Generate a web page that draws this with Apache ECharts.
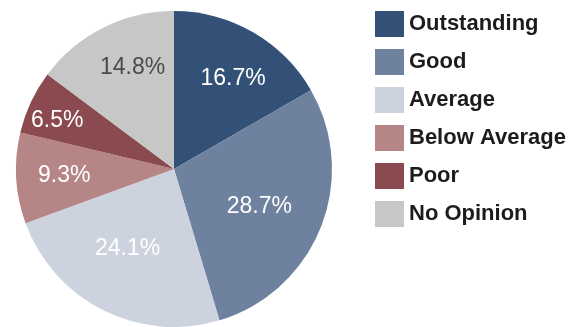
<!DOCTYPE html>
<html>
<head>
<meta charset="utf-8">
<script src="https://cdn.jsdelivr.net/npm/echarts@6/dist/echarts.min.js"></script>
<style>
  html, body { margin: 0; padding: 0; background: #ffffff; }
  #chart { width: 574px; height: 327px; }
</style>
</head>
<body>
<div id="chart"></div>
<script>
// Survey rating shares (percent)
const categories = ['Outstanding', 'Good', 'Average', 'Below Average', 'Poor', 'No Opinion'];
const shares = [16.7, 28.7, 24.1, 9.3, 6.5, 14.8];
const sliceColors = ['#335176', '#6e819e', '#cdd3de', '#b68586', '#8b4a50', '#c7c7c7'];
const labelColors = ['#ffffff', '#ffffff', '#ffffff', '#ffffff', '#ffffff', '#4a4a4a'];
// Small hand adjustments of the percentage labels, in px
const labelNudge = [[5, 3], [-15, -2], [2, -17], [-2, 0], [-19, -3], [7, -5]];

const center = [174, 169];
const radius = 158;

const sliceData = categories.map((name, i) => ({
  name,
  value: shares[i],
  itemStyle: { color: sliceColors[i] }
}));

// Transparent ring used only to place the percentage labels further out
const labelData = categories.map((name, i) => ({
  name,
  value: shares[i],
  itemStyle: { color: 'rgba(0,0,0,0)' },
  label: { color: labelColors[i], offset: labelNudge[i] }
}));

const chart = echarts.init(document.getElementById('chart'), null, { renderer: 'canvas' });
chart.setOption({
  animation: false,
  backgroundColor: '#ffffff',
  legend: {
    orient: 'vertical',
    left: 370,
    top: 6,
    itemWidth: 29,
    itemHeight: 26,
    itemGap: 12,
    icon: 'rect',
    data: categories,
    textStyle: {
      fontFamily: 'Liberation Sans, Arial, sans-serif',
      fontSize: 22,
      fontWeight: 'bold',
      color: '#1c1c1c',
      padding: [0, 0, 0, 0]
    }
  },
  series: [
    {
      type: 'pie',
      name: 'shares',
      center: center,
      radius: [0, radius],
      startAngle: 90,
      clockwise: true,
      label: { show: false },
      labelLine: { show: false },
      emphasis: { disabled: true },
      itemStyle: { borderWidth: 0 },
      data: sliceData
    },
    {
      type: 'pie',
      name: 'labels',
      center: center,
      radius: [52, radius],
      startAngle: 90,
      clockwise: true,
      silent: true,
      legendHoverLink: false,
      emphasis: { disabled: true },
      label: {
        show: true,
        position: 'inside',
        formatter: p => p.value.toFixed(1) + '%',
        fontFamily: 'Liberation Sans, Arial, sans-serif',
        fontSize: 23,
        color: '#ffffff'
      },
      labelLine: { show: false },
      itemStyle: { borderWidth: 0 },
      data: labelData
    }
  ]
});
</script>
</body>
</html>
